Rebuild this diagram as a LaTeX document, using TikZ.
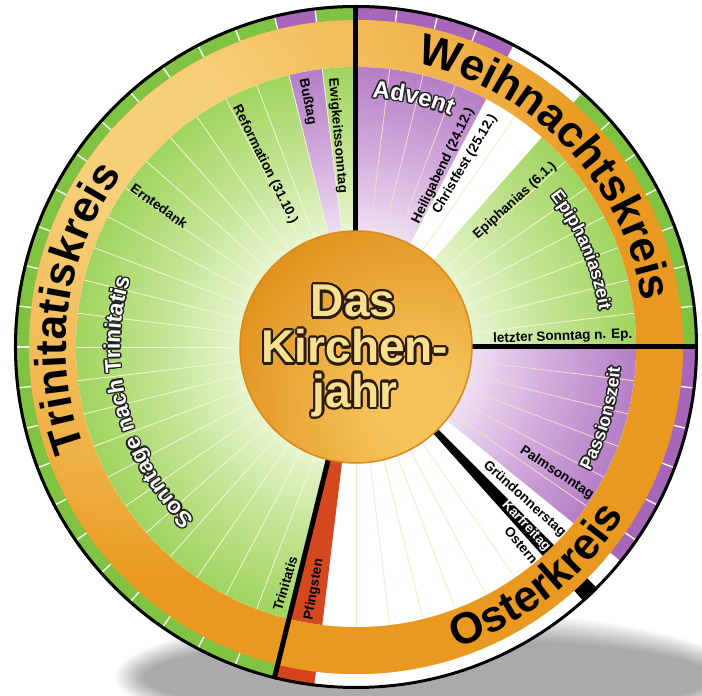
\documentclass[tikz,border=0pt]{standalone}
\usepackage{fontspec}
\setmainfont{Liberation Sans}
\usetikzlibrary{decorations.text,calc}
\definecolor{ringG}{HTML}{80C241}
\definecolor{ringP}{HTML}{A866BA}
\definecolor{ringR}{HTML}{D5431D}
\definecolor{orL}{HTML}{F7CF78}
\definecolor{orM}{HTML}{EFAE42}
\definecolor{orD}{HTML}{E9991F}
\definecolor{gIn}{HTML}{E8F5D0}
\definecolor{gMid}{HTML}{C2E492}
\definecolor{gOut}{HTML}{A0D45F}
\definecolor{pIn}{HTML}{EFDFF2}
\definecolor{pMid}{HTML}{D2AADC}
\definecolor{pOut}{HTML}{B57EC6}
\definecolor{redS}{HTML}{D4471F}
\definecolor{lineG}{HTML}{F4F8D6}
\definecolor{lineP}{HTML}{F6DCCB}
\definecolor{lineW}{HTML}{F1E9C4}
\definecolor{cDark}{HTML}{E1911D}
\definecolor{cLight}{HTML}{F6C35A}
\definecolor{cRim}{HTML}{D98A1A}
\definecolor{ctFill}{HTML}{FAE08E}
\definecolor{ctLine}{HTML}{2A1C0C}
\definecolor{olLine}{HTML}{222222}
% a shaded path's bounding box maps to the central 50bp square (25bp = half size)
\pgfdeclareradialshading{grnrad}{\pgfpoint{0bp}{0bp}}{color(0bp)=(gIn);color(10.3bp)=(gIn);color(17.5bp)=(gMid);color(25bp)=(gOut);color(50bp)=(gOut)}
\pgfdeclareradialshading{purrad}{\pgfpoint{0bp}{0bp}}{color(0bp)=(pIn);color(10.3bp)=(pIn);color(17.5bp)=(pMid);color(25bp)=(pOut);color(50bp)=(pOut)}
\pgfdeclareradialshading{orrad}{\pgfpoint{0bp}{0bp}}{color(0bp)=(orL);color(2.5bp)=(orL);color(10.6bp)=(orM);color(13.75bp)=(orD);color(50bp)=(orD)}
\pgfdeclareradialshading{cenrad}{\pgfpoint{0bp}{0bp}}{color(0bp)=(cLight);color(5bp)=(cLight);color(25bp)=(cDark);color(50bp)=(cDark)}
\newcommand\fBig{\fontsize{44}{44}\selectfont\bfseries}
\newcommand\fSon{\fontsize{22.5}{24}\selectfont\bfseries}
\newcommand\fAdv{\fontsize{24}{26}\selectfont\bfseries}
\newcommand\fEpz{\fontsize{18}{20}\selectfont\bfseries}
\newcommand\fLab{\fontsize{13.5}{15}\selectfont\bfseries}
\newcommand\fCen{\fontsize{46}{46}\selectfont\bfseries}
\newcommand\pie[4]{\fill[#4] (0,0) -- (#1:#3) arc[start angle=#1, end angle=#2, radius=#3] -- cycle;}
\newcommand\curvetext[6]{%
  \path[decorate, decoration={text along path, text align=center, text={|#4\color{#6}|#5}}] (#2:#1pt) arc[start angle=#2, end angle=#3, radius=#1pt];}
\newcommand\curveoutline[6]{%
  \foreach \a in {0,30,...,330}{%
    \path[shift={(\a:1.4pt)}, decorate, decoration={text along path, text align=center, text={|#4\color{olLine}|#5}}] (#2:#1pt) arc[start angle=#2, end angle=#3, radius=#1pt];}%
  \curvetext{#1}{#2}{#3}{#4}{#5}{#6}}
\begin{document}
\begin{tikzpicture}[x=1pt,y=1pt,
  labtxt/.style={font=\fLab, text=black, inner sep=0pt},
  weekln/.style={line width=0.8pt},
  tickln/.style={white, line width=1.3pt},
  sepline/.style={black, line width=5pt},
  centxt/.style={font=\fCen, inner sep=0pt, anchor=base}]
\useasboundingbox (-356,-349) rectangle (346,347);
\fill[white] (-356,-349) rectangle (346,347);
% soft shadow below the disc
\foreach \i in {0,...,11}{%
  \fill[black, opacity=0.03] (72,-330) ellipse [x radius={312-2.5*\i}, y radius={66-2.5*\i}];}
% outer tick ring
\pie{90}{62.308}{342pt}{ringP}
\pie{62.308}{48.462}{342pt}{white}
\pie{48.462}{0}{342pt}{ringG}
\pie{0}{-39}{342pt}{ringP}
\pie{-39}{-45}{342pt}{white}
\pie{-45}{-48.2}{342pt}{black}
\pie{-48.2}{-96.923}{342pt}{white}
\pie{-96.923}{-103.846}{342pt}{ringR}
\pie{103.846}{256.154}{342pt}{ringG}
\pie{96.923}{103.846}{342pt}{ringP}
\pie{90}{96.923}{342pt}{ringG}
\foreach \k in {1,...,51}{\ifnum\k=13\relax\else\ifnum\k=28\relax\else
  \draw[tickln] ({90-\k*6.9231}:327pt) -- ({90-\k*6.9231}:342pt);\fi\fi}
% orange ring
\begin{scope}
\clip (0,0) circle (327pt);
\fill[orD] (0,0) circle (327pt);
\shade[shading=orrad] (-205,205) circle (800pt);
\end{scope}
% inner region
\fill[white] (0,0) circle (280pt);
\begin{scope}
\clip (0,0) -- (48.462:280pt) arc[start angle=48.462, end angle=0, radius=280pt] -- cycle
      (0,0) -- (90:280pt) arc[start angle=90, end angle=96.923, radius=280pt] -- cycle
      (0,0) -- (103.846:280pt) arc[start angle=103.846, end angle=256.154, radius=280pt] -- cycle;
\shade[shading=grnrad] (0,0) circle (280pt);
\end{scope}
\begin{scope}
\clip (0,0) -- (90:280pt) arc[start angle=90, end angle=62.308, radius=280pt] -- cycle
      (0,0) -- (96.923:280pt) arc[start angle=96.923, end angle=103.846, radius=280pt] -- cycle
      (0,0) -- (0:280pt) arc[start angle=0, end angle=-39, radius=280pt] -- cycle;
\shade[shading=purrad] (0,0) circle (280pt);
\end{scope}
\pie{-96.923}{-103.846}{280pt}{redS}
\pie{-45}{-48.2}{280pt}{black}
% week lines
\foreach \k in {1,...,23}{\draw[weekln, lineG] ({90+\k*6.9231}:116pt) -- ({90+\k*6.9231}:280pt);}
\foreach \k in {1,2,3}{\draw[weekln, lineP] ({90-\k*6.9231}:116pt) -- ({90-\k*6.9231}:280pt);}
\draw[weekln, lineW] (55.385:116pt) -- (55.385:280pt);
\foreach \k in {7,...,12}{\draw[weekln, lineG] ({90-\k*6.9231}:116pt) -- ({90-\k*6.9231}:280pt);}
\foreach \k in {14,...,18}{\draw[weekln, lineP] ({90-\k*6.9231}:116pt) -- ({90-\k*6.9231}:280pt);}
\foreach \k in {21,...,26}{\draw[weekln, lineW] ({90-\k*6.9231}:116pt) -- ({90-\k*6.9231}:280pt);}
% separators
\draw[sepline] (90:112pt) -- (90:342pt);
\draw[sepline] (0:112pt) -- (0:342pt);
\draw[sepline] (256.154:112pt) -- (256.154:342pt);
\draw[black, line width=3pt] (0,0) circle (340.5pt);
% centre disc
\begin{scope}
\clip (0,0) circle (116pt);
\shade[shading=cenrad] (60,-60) circle (200pt);
\end{scope}
\draw[cRim, line width=1.5pt] (0,0) circle (116pt);
\foreach \a [count=\i] in {0,22.5,...,337.5}{%
  \node[centxt, text=ctLine] (dass\i) at ($(-3,30)+(\a:2.2pt)$) {Das};
  \node[centxt, text=ctLine] (kirs\i) at ($(-1,-16)+(\a:2.2pt)$) {Kirchen-};
  \node[centxt, text=ctLine] (jahs\i) at ($(-1,-60)+(\a:2.2pt)$) {jahr};}
\node[centxt, text=ctFill] (das) at (-3,30) {Das};
\node[centxt, text=ctFill] (kir) at (-1,-16) {Kirchen-};
\node[centxt, text=ctFill] (jah) at (-1,-60) {jahr};
% circle titles
\curvetext{290}{216}{128}{\fBig}{Trinitatiskreis}{black}
\curvetext{290}{88}{-1}{\fBig}{Weihnachtskreis}{black}
\curvetext{317}{-96}{-7.6}{\fBig}{Osterkreis}{black}
% outlined season names
\curveoutline{236}{232}{158}{\fSon}{Sonntage nach Trinitatis}{white}
\curveoutline{250}{96}{58}{\fAdv}{Advent}{white}
\curveoutline{246}{48}{-1.6}{\fEpz}{Epiphaniaszeit}{white}
\curveoutline{265}{-40}{7.6}{\fEpz}{Passionszeit}{white}
% radial labels
\node[labtxt, rotate=-85] (ewig) at (95:212pt) {Ewigkeitssonntag};
\node[labtxt, rotate=-78.8] (buss) at (101.2:250pt) {Bußtag};
\node[labtxt, rotate=-63.5] (refo) at (116.5:204pt) {Reformation (31.10.)};
\node[labtxt, rotate=-35.6] (ernte) at (144.4:242pt) {Erntedank};
\node[labtxt, rotate=73.3] (trin) at (253.3:247pt) {Trinitatis};
\node[labtxt, rotate=80.2] (pfing) at (260.2:246pt) {Pfingsten};
\node[labtxt, rotate=64.3] (heilig) at (64.3:201pt) {Heiligabend (24.12.)};
\node[labtxt, rotate=59.2] (christ) at (59.2:213pt) {Christfest (25.12.)};
\node[labtxt, rotate=42.6] (epi) at (42.6:216pt) {Epiphanias (6.1.)};
\node[labtxt, rotate=2] (letzt) at (2.8:207pt) {letzter Sonntag n. Ep.};
\node[labtxt, rotate=-33] (palm) at (-32.1:237pt) {Palmsonntag};
\node[labtxt, rotate=-42] (gruen) at (-42.1:227pt) {Gründonnerstag};
\node[labtxt, text=white, rotate=-46.5] (kar) at (-46.5:247pt) {Karfreitag};
\node[labtxt, rotate=-50] (oster) at (-50.2:258pt) {Ostern};
\end{tikzpicture}
\end{document}
